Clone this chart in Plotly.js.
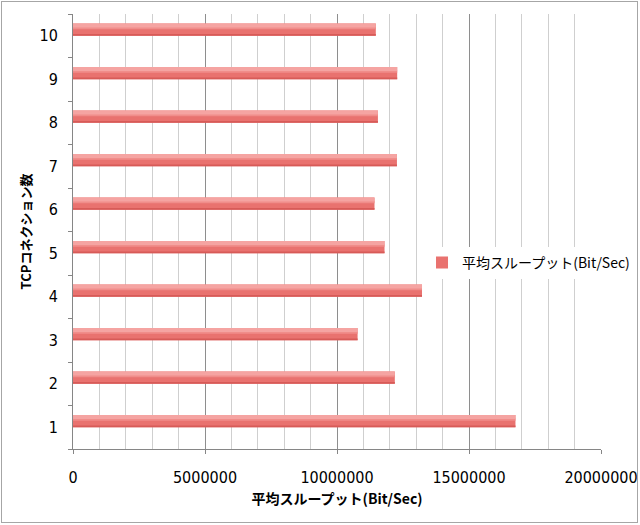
<!DOCTYPE html>
<html>
<head>
<meta charset="utf-8">
<script src="https://cdn.plot.ly/plotly-3.0.1.min.js"></script>
<style>
html,body{margin:0;padding:0;background:#fff;}
#frame{position:absolute;left:1px;top:1px;width:637px;height:522px;border:1px solid #a6a6a6;box-sizing:border-box;pointer-events:none;}
#chart{position:absolute;left:0;top:0;width:640px;height:525px;}
</style>
</head>
<body>
<div id="chart"></div>
<div id="frame"></div>
<script>
const connections = ["1","2","3","4","5","6","7","8","9","10"];
const throughput = [16760000, 12190000, 10780000, 13220000, 11800000, 11420000, 12270000, 11550000, 12280000, 11470000];
const seriesName = "平均スループット(Bit/Sec)";
const xTitle = "平均スループット(Bit/Sec)";
const yTitle = "TCPコネクション数";
const xTickVals = [0, 5000000, 10000000, 15000000, 20000000];
const xTickText = ["0", "5000000", "10000000", "15000000", "20000000"];

const fontJP = '"Noto Sans CJK JP", "Open Sans", sans-serif';
const fontTick = '"Liberation Sans Narrow", "DejaVu Sans Condensed", "Open Sans", sans-serif';

// main bar (legend entry) plus thin overlay bands to imitate the vertical gradient
const base = {
  type: "bar", orientation: "h",
  y: connections, x: throughput,
  name: seriesName,
  width: 0.28, offset: 0,
  marker: {color: "#e9726f", line: {width: 0}},
  showlegend: true, hoverinfo: "x+y"
};
const topBand = {
  type: "bar", orientation: "h",
  y: connections, x: throughput,
  name: seriesName,
  width: 0.09, offset: 0.19,
  marker: {color: "#f5a4a2", line: {width: 0}},
  showlegend: false, hoverinfo: "skip"
};
const midBand = {
  type: "bar", orientation: "h",
  y: connections, x: throughput,
  name: seriesName,
  width: 0.05, offset: 0.15,
  marker: {color: "#f08d8a", line: {width: 0}},
  showlegend: false, hoverinfo: "skip"
};
const bottomBand = {
  type: "bar", orientation: "h",
  y: connections, x: throughput,
  name: seriesName,
  width: 0.04, offset: 0,
  marker: {color: "#d75b58", line: {width: 0}},
  showlegend: false, hoverinfo: "skip"
};

const layout = {
  width: 640, height: 525,
  margin: {l: 73, r: 39, t: 14, b: 76, pad: 0, autoexpand: false},
  paper_bgcolor: "#fff", plot_bgcolor: "#fff",
  barmode: "overlay",
  showlegend: true,
  legend: {
    x: 0.661, y: 0.428, xanchor: "left", yanchor: "middle",
    bgcolor: "#fff", borderwidth: 0,
    font: {family: fontJP, size: 14, color: "#000"},
    itemwidth: 30
  },
  xaxis: {
    range: [0, 20000000],
    tickmode: "array", tickvals: xTickVals, ticktext: xTickText,
    ticks: "outside", ticklen: 4, tickcolor: "#868686",
    showline: true, linecolor: "#868686", linewidth: 1,
    showgrid: true, gridcolor: "#8e8e8e", gridwidth: 1,
    minor: {dtick: 1000000, tick0: 0, showgrid: true, gridcolor: "#cfcfcf", gridwidth: 1, ticks: ""},
    tickfont: {family: fontTick, size: 16, color: "#000"},
    ticklabelstandoff: 10,
    title: {text: xTitle, font: {family: fontJP, size: 14, color: "#000", weight: "bold"}, standoff: 7},
    zeroline: false, fixedrange: true
  },
  yaxis: {
    type: "category",
    tickson: "boundaries",
    ticks: "outside", ticklen: 4, tickcolor: "#868686",
    showline: true, linecolor: "#868686", linewidth: 1,
    showgrid: false,
    tickfont: {family: fontTick, size: 16, color: "#000"},
    ticklabelstandoff: 11,
    title: {text: yTitle, font: {family: fontJP, size: 13, color: "#000", weight: "bold"}, standoff: 4},
    fixedrange: true
  }
};

Plotly.newPlot("chart", [base, midBand, topBand, bottomBand], layout, {displayModeBar: false, staticPlot: true});
</script>
</body>
</html>
